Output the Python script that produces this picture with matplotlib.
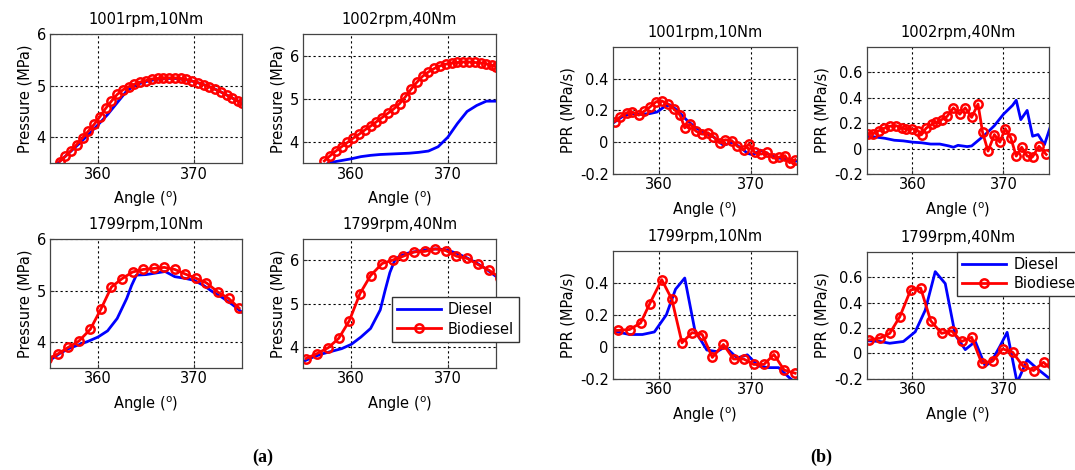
import matplotlib
matplotlib.use('Agg')
import matplotlib.pyplot as plt

plt.rcParams['font.family'] = ['DejaVu Sans']
plt.rcParams['mathtext.fontset'] = 'dejavusans'
plt.rcParams['axes.unicode_minus'] = False

# ---- Data: (a) cylinder pressure ----
titles = ['1001rpm,10Nm', '1002rpm,40Nm', '1799rpm,10Nm', '1799rpm,40Nm']

a1_dsl_x = [355.8, 357, 358, 359, 360, 361, 362, 363, 364, 365, 366, 367, 368, 369, 370, 371, 372, 373, 374, 375]
a1_dsl_y = [3.50, 3.70, 3.87, 4.05, 4.24, 4.44, 4.67, 4.90, 5.02, 5.08, 5.12, 5.14, 5.14, 5.12, 5.08, 5.02, 4.95, 4.86, 4.76, 4.66]
a1_bio_x = [356.0, 356.6, 357.2, 357.8, 358.4, 359.0, 359.6, 360.2, 360.8, 361.4, 362.0, 362.6, 363.2, 363.8, 364.4, 365.0,
            365.6, 366.2, 366.8, 367.4, 368.0, 368.6, 369.2, 369.8, 370.4, 371.0, 371.6, 372.2, 372.8, 373.4, 374.0, 374.6, 375.0]
a1_bio_y = [3.53, 3.63, 3.74, 3.86, 3.99, 4.12, 4.25, 4.40, 4.56, 4.70, 4.83, 4.92, 4.98, 5.03, 5.07, 5.10,
            5.13, 5.14, 5.15, 5.15, 5.15, 5.14, 5.12, 5.09, 5.06, 5.02, 4.98, 4.93, 4.88, 4.82, 4.76, 4.70, 4.66]

a2_dsl_x = [357.6, 358, 359, 360, 361, 362, 363, 364, 365, 366, 367, 368, 369, 370, 371, 372, 373, 374, 375]
a2_dsl_y = [3.50, 3.52, 3.56, 3.60, 3.65, 3.68, 3.70, 3.71, 3.72, 3.73, 3.75, 3.78, 3.88, 4.10, 4.42, 4.70, 4.84, 4.94, 4.94]
a2_bio_x = [357.2, 357.8, 358.4, 359.0, 359.6, 360.2, 360.8, 361.4, 362.0, 362.6, 363.2, 363.8, 364.4, 365.0, 365.6, 366.2,
            366.8, 367.4, 368.0, 368.6, 369.2, 369.8, 370.4, 371.0, 371.6, 372.2, 372.8, 373.4, 374.0, 374.6, 375.0]
a2_bio_y = [3.55, 3.67, 3.78, 3.88, 3.98, 4.08, 4.17, 4.27, 4.36, 4.46, 4.56, 4.66, 4.76, 4.88, 5.04, 5.22,
            5.38, 5.52, 5.62, 5.70, 5.76, 5.80, 5.83, 5.84, 5.85, 5.85, 5.84, 5.83, 5.81, 5.77, 5.74]

a3_dsl_x = [355.0, 356, 357, 358, 359, 360, 361, 362, 363, 363.5, 364, 365, 366, 367, 368, 369, 370, 371, 372, 373, 374, 375]
a3_dsl_y = [3.65, 3.78, 3.88, 3.95, 4.02, 4.10, 4.22, 4.46, 4.85, 5.10, 5.30, 5.31, 5.34, 5.37, 5.27, 5.24, 5.20, 5.10, 4.97, 4.86, 4.73, 4.58]
a3_bio_x = [354.7, 355.8, 356.9, 358.0, 359.2, 360.3, 361.4, 362.5, 363.6, 364.7, 365.8, 366.9, 368.0, 369.1, 370.2, 371.3, 372.5, 373.6, 374.7]
a3_bio_y = [3.67, 3.77, 3.90, 4.02, 4.25, 4.64, 5.07, 5.23, 5.36, 5.41, 5.43, 5.45, 5.41, 5.32, 5.24, 5.15, 4.97, 4.85, 4.66]

a4_dsl_x = [355.0, 356, 357, 358, 359, 360, 361, 362, 363, 363.5, 364, 364.5, 365, 366, 367, 368, 369, 370, 371, 372, 373, 374, 375]
a4_dsl_y = [3.65, 3.75, 3.83, 3.89, 3.95, 4.05, 4.22, 4.42, 4.85, 5.30, 5.72, 6.00, 6.10, 6.18, 6.22, 6.26, 6.27, 6.24, 6.16, 6.06, 5.94, 5.80, 5.63]
a4_bio_x = [355.3, 356.4, 357.6, 358.7, 359.8, 360.9, 362.0, 363.2, 364.3, 365.4, 366.5, 367.6, 368.7, 369.8, 370.9, 372.0, 373.1, 374.3, 375.4]
a4_bio_y = [3.72, 3.83, 3.97, 4.19, 4.60, 5.23, 5.65, 5.93, 6.01, 6.10, 6.20, 6.21, 6.27, 6.23, 6.10, 6.05, 5.91, 5.77, 5.60]

# ---- Data: (b) pressure rise rate ----
b1_dsl_x = [355.0, 356, 357, 358, 359, 359.8, 360.5, 361.2, 362, 363, 364, 365, 366, 367, 368, 369, 369.6, 370.2, 371, 372, 373, 374, 375]
b1_dsl_y = [0.12, 0.16, 0.18, 0.175, 0.18, 0.19, 0.22, 0.235, 0.20, 0.14, 0.09, 0.06, 0.03, -0.02, 0.0, -0.04, -0.07, -0.08, -0.05, -0.08, -0.10, -0.11, -0.12]
b1_bio_x = [355.2, 355.8, 356.5, 357.1, 357.8, 358.4, 359.0, 359.7, 360.3, 361.0, 361.6, 362.3, 362.8, 363.4, 364.0, 364.7,
            365.3, 365.9, 366.6, 367.2, 367.9, 368.5, 369.2, 369.8, 370.4, 371.1, 371.7, 372.4, 373.0, 373.7, 374.2, 374.8]
b1_bio_y = [0.13, 0.16, 0.185, 0.19, 0.17, 0.195, 0.22, 0.255, 0.26, 0.24, 0.21, 0.17, 0.09, 0.115, 0.07, 0.05,
            0.06, 0.035, -0.005, 0.015, 0.01, -0.025, -0.05, -0.01, -0.065, -0.075, -0.065, -0.10, -0.095, -0.085, -0.13, -0.11]

b2_dsl_x = [355.0, 356, 357, 358, 359, 360, 361, 362, 363, 364, 364.5, 365, 366, 366.5, 367, 368, 369, 370, 371, 371.4,
            371.9, 372.6, 373.2, 373.8, 374.5, 375.1]
b2_dsl_y = [0.095, 0.09, 0.08, 0.065, 0.06, 0.05, 0.045, 0.035, 0.035, 0.02, 0.01, 0.025, 0.015, 0.02, 0.05, 0.11, 0.18, 0.27, 0.34, 0.38,
            0.227, 0.30, 0.097, 0.11, 0.03, 0.16]
b2_bio_x = [355.1, 355.7, 356.3, 356.9, 357.5, 358.2, 358.8, 359.3, 360.0, 360.6, 361.0, 361.5, 362.1, 362.6, 363.2, 363.8, 364.5,
            365.2, 365.8, 366.5, 367.2, 367.7, 368.3, 369.0, 369.6, 370.2, 370.8, 371.4, 372.0, 372.6, 373.2, 373.9, 374.7]
b2_bio_y = [0.118, 0.118, 0.14, 0.16, 0.175, 0.18, 0.16, 0.155, 0.155, 0.14, 0.11, 0.16, 0.19, 0.205, 0.227, 0.253, 0.32,
            0.27, 0.32, 0.245, 0.35, 0.128, -0.02, 0.11, 0.05, 0.157, 0.084, -0.06, 0.01, -0.06, -0.065, 0.018, -0.047]

b3_dsl_x = [354.9, 356.8, 358.2, 359.5, 360.8, 361.8, 362.8, 363.9, 365.2, 366.3, 367.2, 368.5, 369.6, 370.8, 371.9, 373.0, 374.3, 375.0]
b3_dsl_y = [0.10, 0.077, 0.077, 0.093, 0.20, 0.36, 0.43, 0.103, -0.02, -0.03, 0.0, -0.07, -0.05, -0.12, -0.13, -0.13, -0.20, -0.23]
b3_bio_x = [354.5, 355.6, 356.8, 358.0, 359.0, 360.3, 361.4, 362.5, 363.6, 364.7, 365.8, 367.0, 368.1, 369.2, 370.3, 371.4, 372.5, 373.6, 374.8]
b3_bio_y = [0.10, 0.103, 0.108, 0.149, 0.27, 0.42, 0.297, 0.025, 0.089, 0.077, -0.066, 0.015, -0.076, -0.076, -0.11, -0.11, -0.048, -0.145, -0.165]

b4_dsl_x = [355.0, 356.4, 357.5, 359.0, 360.3, 361.4, 362.5, 363.6, 364.7, 365.8, 366.9, 368.0, 368.7, 369.6, 370.4, 371.5, 372.6, 373.7, 375.1]
b4_dsl_y = [0.10, 0.094, 0.08, 0.094, 0.17, 0.34, 0.644, 0.55, 0.145, 0.03, 0.094, -0.10, -0.06, 0.055, 0.166, -0.23, -0.05, -0.12, -0.20]
b4_bio_x = [355.2, 356.4, 357.5, 358.6, 359.8, 360.9, 362.0, 363.2, 364.3, 365.4, 366.5, 367.6, 368.8, 369.9, 371.0, 372.1, 373.3, 374.4, 375.5]
b4_bio_y = [0.106, 0.12, 0.158, 0.288, 0.50, 0.514, 0.257, 0.158, 0.177, 0.094, 0.127, -0.075, -0.062, 0.036, 0.01, -0.096, -0.135, -0.07, -0.14]

FS = 10.5
xlab = r'Angle ($^{\rm o}$)'

fig = plt.figure(figsize=(10.75, 4.7), dpi=100)

# axes rectangles in figure fractions (from the pixel layout of the reference)
rects = [[0.0465, 0.653, 0.1786, 0.2745], [0.2819, 0.653, 0.1795, 0.2745],
         [0.0465, 0.217, 0.1786, 0.2745], [0.2819, 0.217, 0.1795, 0.2745],
         [0.5702, 0.630, 0.1712, 0.2702], [0.8065, 0.630, 0.1693, 0.2702],
         [0.5702, 0.194, 0.1712, 0.2723], [0.8065, 0.194, 0.1693, 0.2702]]

series = [(a1_dsl_x, a1_dsl_y, a1_bio_x, a1_bio_y), (a2_dsl_x, a2_dsl_y, a2_bio_x, a2_bio_y),
          (a3_dsl_x, a3_dsl_y, a3_bio_x, a3_bio_y), (a4_dsl_x, a4_dsl_y, a4_bio_x, a4_bio_y),
          (b1_dsl_x, b1_dsl_y, b1_bio_x, b1_bio_y), (b2_dsl_x, b2_dsl_y, b2_bio_x, b2_bio_y),
          (b3_dsl_x, b3_dsl_y, b3_bio_x, b3_bio_y), (b4_dsl_x, b4_dsl_y, b4_bio_x, b4_bio_y)]

ylims = [(3.5, 6), (3.5, 6.5), (3.5, 6), (3.5, 6.5),
         (-0.2, 0.6), (-0.2, 0.8), (-0.2, 0.6), (-0.2, 0.8)]
yticks = [[4, 5, 6], [4, 5, 6], [4, 5, 6], [4, 5, 6],
          [-0.2, 0, 0.2, 0.4], [-0.2, 0, 0.2, 0.4, 0.6], [-0.2, 0, 0.2, 0.4], [-0.2, 0, 0.2, 0.4, 0.6]]

axes = []
for i in range(8):
    ax = fig.add_axes(rects[i])
    dx, dy, bx, by = series[i]
    ax.plot(dx, dy, color='#0000ff', lw=2.0, label='Diesel')
    ax.plot(bx, by, color='#ff0000', lw=2.0, marker='o', ms=6, mfc='none', mew=1.8, label='Biodiesel')
    ax.set_xlim(355, 375)
    ax.set_ylim(*ylims[i])
    ax.set_xticks([360, 370])
    ax.set_yticks(yticks[i])
    ax.set_yticklabels(['%g' % v for v in yticks[i]])
    ax.grid(True, color='black', ls=(0, (2, 2.5)), lw=0.8)
    ax.tick_params(direction='in', length=3, labelsize=FS, color='#333333')
    ax.tick_params(axis='x', pad=2.5)
    ax.tick_params(axis='y', pad=3)
    for s in ax.spines.values():
        s.set_color('#444444')
        s.set_linewidth(0.9)
    ax.set_title(titles[i % 4], fontsize=FS, pad=7)
    ax.set_xlabel(xlab, fontsize=FS, labelpad=6)
    ax.set_ylabel('Pressure (MPa)' if i < 4 else 'PPR (MPa/s)', fontsize=FS, labelpad=3)
    axes.append(ax)

# legends
leg_kw = dict(loc='upper left', fontsize=FS, fancybox=False, edgecolor='#333333', framealpha=1,
              handlelength=3.0, handletextpad=0.5, borderpad=0.35, labelspacing=0.3, borderaxespad=0)
axes[3].legend(bbox_to_anchor=(0.46, 0.55), **leg_kw)
axes[7].legend(bbox_to_anchor=(0.495, 1.0), **leg_kw)

fig.text(0.244, 0.018, '(a)', fontsize=13, fontweight='bold', family='Liberation Serif', ha='center')
fig.text(0.764, 0.018, '(b)', fontsize=13, fontweight='bold', family='Liberation Serif', ha='center')

fig.savefig('out.png', dpi=100)
